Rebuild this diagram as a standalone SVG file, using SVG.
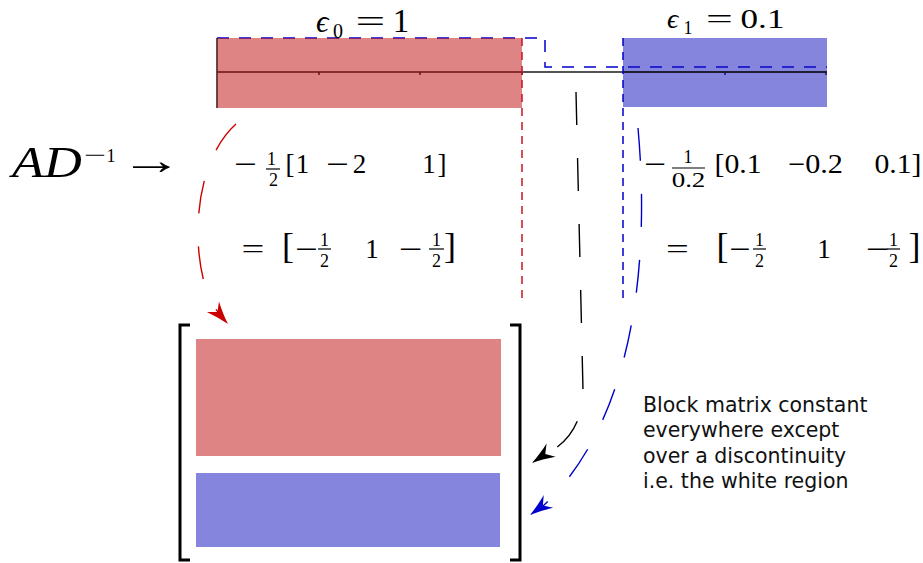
<svg xmlns="http://www.w3.org/2000/svg" xmlns:xlink="http://www.w3.org/1999/xlink" width="923" height="563" viewBox="0 0 923 563">
<style>
.m{font-family:"Liberation Serif","DejaVu Serif",serif;fill:#000;text-anchor:middle}
.it{font-style:italic}
.lbl{font-family:"DejaVu Sans",sans-serif;font-size:20.5px;fill:#111}
.redfill{fill:rgb(191,9,9);fill-opacity:0.5}
.bluefill{fill:rgb(11,11,189);fill-opacity:0.5}
.axis{stroke:#1a1a1a;stroke-width:1.5;fill:none}
.vdash{fill:none;stroke-width:1.5;stroke-dasharray:8 6}
.conn{fill:none;stroke-width:1.4;stroke-dasharray:33 33}
.fbar{stroke:#000;stroke-width:1.2}
.brk{fill:none;stroke:#000;stroke-width:3}
</style>
<defs>
<path id="ah" d="M0,0 C-8,-2 -16,-5 -23,-8 L-16,0 L-23,8 C-16,5 -8,2 0,0 Z"/>
</defs>

<g id="domain">
  <line class="axis" x1="217" y1="72" x2="827" y2="72"/>
  <line class="axis" x1="217" y1="38" x2="217" y2="108"/>
  <path d="M319,72 V75 M420,72 V75 M522,72 V75 M725,72 V75 M826,72 V75" class="axis"/>
  <path d="M217,38 H545 V67 H827" fill="none" stroke="#0000cc" stroke-width="1.5" stroke-dasharray="12 10"/>
  <rect id="region0" class="redfill" x="217" y="38" width="305" height="70"/>
  <rect id="region1" class="bluefill" x="623" y="38" width="204" height="69"/>
  <line class="axis" x1="623" y1="72" x2="827" y2="72"/>
  <line class="vdash" stroke="#cc1122" x1="522" y1="38" x2="522" y2="300"/>
  <line class="vdash" stroke="#0000cc" x1="623" y1="38" x2="623" y2="302"/>
</g>

<g id="title0">
  <text class="m it" style="text-anchor:start" x="316" y="32" font-size="31">ϵ</text>
  <text class="m" x="338" y="38" font-size="20">0</text>
  <text class="m" font-size="32" transform="translate(370.5,32) scale(1.65,1)">=</text>
  <text class="m" x="401" y="32" font-size="33">1</text>
</g>
<g id="title1">
  <text class="m it" style="text-anchor:start" x="667" y="28" font-size="28">ϵ</text>
  <text class="m" x="688" y="34" font-size="18">1</text>
  <text class="m" font-size="28" transform="translate(719.5,28) scale(1.7,1)">=</text>
  <text class="m" font-size="27" transform="translate(762.5,28) scale(1.3,1)">0.1</text>
</g>

<g id="operator">
  <text class="m it" font-size="44" transform="translate(47,177) scale(1.19,1)">AD</text>
  <text class="m" font-size="18" transform="translate(95,161) scale(2.2,1)">−</text>
  <text class="m" x="111" y="162" font-size="18">1</text>
  <text class="m" font-size="40" transform="translate(151.5,174) scale(1.55,1)">→</text>
</g>

<g id="stencil0">
  <text class="m" font-size="27" transform="translate(245.5,173) scale(1.5,1)">−</text>
  <text class="m" x="271.5" y="165" font-size="18">1</text>
  <line class="fbar" x1="266" y1="169" x2="280" y2="169"/>
  <text class="m" x="273.5" y="186" font-size="18">2</text>
  <text class="m" x="290" y="173" font-size="27">[</text>
  <text class="m" x="302.5" y="173" font-size="27">1</text>
  <text class="m" font-size="27" transform="translate(337.5,173) scale(1.5,1)">−</text>
  <text class="m" x="359.5" y="173" font-size="27">2</text>
  <text class="m" x="429" y="173" font-size="27">1</text>
  <text class="m" x="442" y="173" font-size="27">]</text>

  <text class="m" font-size="27" transform="translate(253,258) scale(1.5,1)">=</text>
  <text class="m" x="288" y="257.5" font-size="36">[</text>
  <text class="m" font-size="27" transform="translate(306.5,258) scale(1.5,1)">−</text>
  <text class="m" x="324.5" y="246" font-size="18">1</text>
  <line class="fbar" x1="318" y1="249" x2="331" y2="249"/>
  <text class="m" x="324.5" y="267" font-size="18">2</text>
  <text class="m" x="372" y="258" font-size="27">1</text>
  <text class="m" font-size="27" transform="translate(410.5,258) scale(1.55,1)">−</text>
  <text class="m" x="436.5" y="246" font-size="18">1</text>
  <line class="fbar" x1="429" y1="249" x2="444" y2="249"/>
  <text class="m" x="436.5" y="267" font-size="18">2</text>
  <text class="m" x="450" y="257.5" font-size="36">]</text>
</g>

<g id="stencil1">
  <text class="m" font-size="27" transform="translate(655,173) scale(1.45,1)">−</text>
  <text class="m" x="688" y="163" font-size="18">1</text>
  <line class="fbar" x1="672" y1="168" x2="705" y2="168"/>
  <text class="m" font-size="20" transform="translate(688.5,187) scale(1.35,1)">0.2</text>
  <text class="m" font-size="27" transform="translate(738,173) scale(1.1,1)">[0.1</text>
  <text class="m" font-size="27" transform="translate(815.5,173) scale(1.12,1)">−0.2</text>
  <text class="m" font-size="27" transform="translate(898,173) scale(1.1,1)">0.1]</text>

  <text class="m" font-size="27" transform="translate(677.5,258) scale(1.5,1)">=</text>
  <text class="m" x="722.5" y="257.5" font-size="36">[</text>
  <text class="m" font-size="27" transform="translate(740,258) scale(1.4,1)">−</text>
  <text class="m" x="759.5" y="246" font-size="18">1</text>
  <line class="fbar" x1="753" y1="249" x2="766" y2="249"/>
  <text class="m" x="759.5" y="267" font-size="18">2</text>
  <text class="m" x="824" y="258" font-size="27">1</text>
  <text class="m" font-size="27" transform="translate(877.5,258) scale(1.55,1)">−</text>
  <text class="m" x="893.5" y="246" font-size="18">1</text>
  <line class="fbar" x1="887" y1="249" x2="900" y2="249"/>
  <text class="m" x="893.5" y="267" font-size="18">2</text>
  <text class="m" x="914.5" y="257.5" font-size="36">]</text>
</g>

<g id="matrix">
  <path class="brk" d="M190,325 H180 V560 H190"/>
  <path class="brk" d="M510,325 H520 V560 H510"/>
  <rect id="block0" class="redfill" x="196" y="339" width="305" height="117"/>
  <rect id="block1" class="bluefill" x="196" y="473" width="304" height="74"/>
</g>

<g id="note">
  <text class="lbl" x="643" y="412">Block matrix constant</text>
  <text class="lbl" x="643" y="437">everywhere except</text>
  <text class="lbl" x="643" y="463">over a discontinuity</text>
  <text class="lbl" x="643" y="488">i.e. the white region</text>
</g>

<g id="connectors">
  <path class="conn" stroke="#cc0000" d="M236,124 C185,170 192,282 218,312"/>
  <use xlink:href="#ah" fill="#cc0000" transform="translate(228,324) rotate(49)"/>
  <path class="conn" stroke="#000" d="M576,92 L583,390 C583,420 570,442 546,454"/>
  <use xlink:href="#ah" fill="#000" transform="translate(532,463) rotate(146)"/>
  <path class="conn" stroke="#0000cc" d="M638,128 C650,260 635,420 543,506"/>
  <use xlink:href="#ah" fill="#0000cc" transform="translate(530,515) rotate(143.5)"/>
</g>
</svg>
